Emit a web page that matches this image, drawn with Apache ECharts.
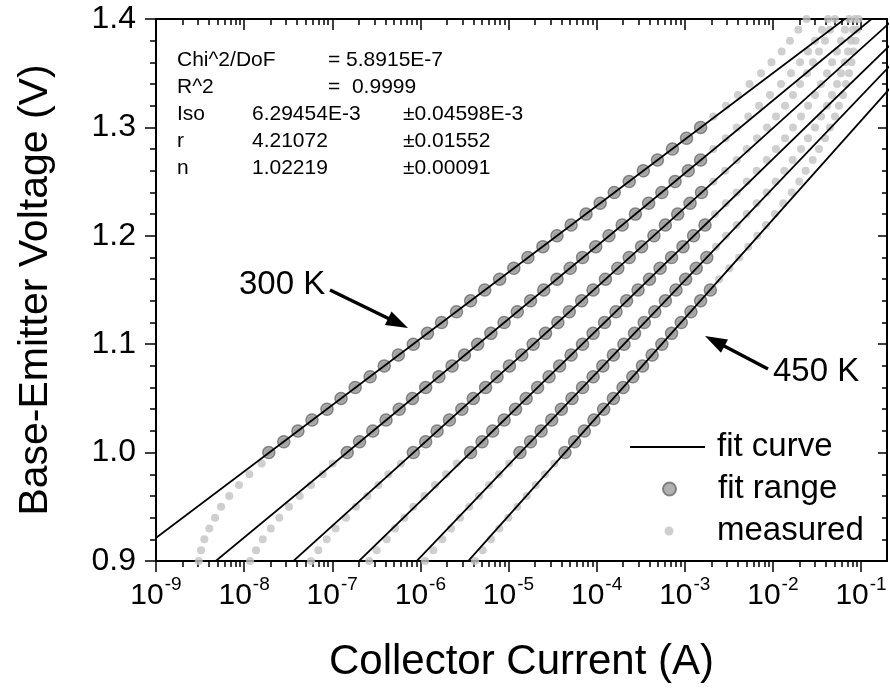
<!DOCTYPE html>
<html><head><meta charset="utf-8">
<script src="https://cdn.jsdelivr.net/npm/echarts@6/dist/echarts.min.js"></script>
<style>html,body{margin:0;padding:0;background:#fff}#c{width:890px;height:691px}</style>
</head><body><div id="c"></div>
<script>
// ---------------- DATA ----------------
const temperatures = ['300 K', '330 K', '360 K', '390 K', '420 K', '450 K'];
// base-emitter voltage of every measured point (V)
const voltage = [0.90,0.91,0.92,0.93,0.94,0.95,0.96,0.97,0.98,0.99,
  1.00,1.01,1.02,1.03,1.04,1.05,1.06,1.07,1.08,1.09,
  1.10,1.11,1.12,1.13,1.14,1.15,1.16,1.17,1.18,1.19,
  1.20,1.21,1.22,1.23,1.24,1.25,1.26,1.27,1.28,1.29,
  1.30,1.31,1.32,1.33,1.34,1.35,1.36,1.37,1.38,1.39,1.40];
// collector current, given as log10(I / A), one value per voltage above
const logI_300K = [-8.515,-8.489,-8.452,-8.395,-8.330,-8.262,-8.168,-8.058,-7.941,-7.801,
  -7.72,-7.55,-7.39,-7.23,-7.06,-6.90,-6.74,-6.57,-6.41,-6.25,
  -6.08,-5.92,-5.76,-5.59,-5.43,-5.27,-5.10,-4.94,-4.78,-4.61,
  -4.45,-4.29,-4.12,-3.96,-3.80,-3.63,-3.47,-3.31,-3.14,-2.98,
  -2.82,-2.676,-2.532,-2.396,-2.265,-2.135,-2.016,-1.900,-1.806,-1.711,-1.618];
const logI_330K = [-7.933,-7.865,-7.789,-7.698,-7.601,-7.491,-7.369,-7.241,-7.108,-6.995,
  -6.83,-6.69,-6.54,-6.39,-6.24,-6.09,-5.94,-5.79,-5.64,-5.50,
  -5.35,-5.20,-5.05,-4.90,-4.75,-4.60,-4.45,-4.30,-4.16,-4.01,
  -3.86,-3.71,-3.56,-3.41,-3.26,-3.11,-2.96,-2.82,-2.676,-2.535,
  -2.410,-2.279,-2.157,-2.033,-1.908,-1.794,-1.692,-1.601,-1.522,-1.443,-1.374];
const logI_360K = [-7.241,-7.158,-7.063,-6.961,-6.844,-6.731,-6.602,-6.477,-6.364,-6.220,
  -6.08,-5.94,-5.81,-5.67,-5.53,-5.40,-5.26,-5.13,-4.99,-4.85,
  -4.72,-4.58,-4.44,-4.31,-4.17,-4.04,-3.90,-3.76,-3.63,-3.49,
  -3.35,-3.22,-3.08,-2.94,-2.81,-2.676,-2.543,-2.410,-2.297,-2.180,
  -2.067,-1.965,-1.862,-1.772,-1.692,-1.613,-1.545,-1.477,-1.409,-1.352,-1.295];
const logI_390K = [-6.580,-6.496,-6.382,-6.288,-6.182,-6.080,-5.955,-5.834,-5.709,-5.588,
  -5.43,-5.30,-5.18,-5.05,-4.92,-4.80,-4.67,-4.54,-4.42,-4.29,
  -4.16,-4.04,-3.91,-3.78,-3.66,-3.53,-3.40,-3.28,-3.15,-3.02,
  -2.90,-2.77,-2.657,-2.535,-2.410,-2.297,-2.184,-2.070,-1.965,-1.862,
  -1.772,-1.681,-1.601,-1.522,-1.454,-1.386,-1.329,-1.272,-1.227,-1.182,-1.136];
const logI_420K = [-5.948,-5.853,-5.751,-5.652,-5.550,-5.445,-5.335,-5.221,-5.108,-4.994,
  -4.87,-4.75,-4.63,-4.51,-4.40,-4.28,-4.16,-4.04,-3.93,-3.81,
  -3.69,-3.57,-3.46,-3.34,-3.22,-3.10,-2.99,-2.87,-2.75,-2.645,
  -2.532,-2.410,-2.297,-2.184,-2.070,-1.968,-1.870,-1.775,-1.681,-1.601,
  -1.522,-1.454,-1.386,-1.329,-1.272,-1.227,-1.182,-1.148,-1.113,-1.091,-1.068];
const logI_450K = [-5.380,-5.293,-5.199,-5.104,-5.002,-4.900,-4.794,-4.691,-4.586,-4.480,
  -4.36,-4.25,-4.14,-4.03,-3.92,-3.81,-3.70,-3.59,-3.48,-3.37,
  -3.26,-3.15,-3.04,-2.93,-2.82,-2.71,-2.611,-2.494,-2.384,-2.279,
  -2.177,-2.078,-1.976,-1.882,-1.786,-1.700,-1.628,-1.548,-1.477,-1.409,
  -1.352,-1.295,-1.250,-1.204,-1.170,-1.136,-1.108,-1.085,-1.062,-1.045,-1.028];
// fit range = voltages from 1.00 V up to these voltages
const fitStartV = 1.00;
const fitEndV = [1.30, 1.27, 1.24, 1.21, 1.18, 1.15];
// fitted straight lines: voltage of the two ends and log10(I) there
const fitLineV = [0.88, 1.42];
const fitLine_300K = [-9.676, -0.858];
const fitLine_330K = [-8.620, -0.583];
const fitLine_360K = [-7.714, -0.355];
const fitLine_390K = [-6.950, -0.111];
const fitLine_420K = [-6.276, 0.070];
const fitLine_450K = [-5.676, 0.249];
// axis ticks
const xMajorExp = [-9, -8, -7, -6, -5, -4, -3, -2, -1];
const xMinorFactors = [2, 3, 4, 5, 6, 7, 8, 9];
const yTicks = [0.9, 1.0, 1.1, 1.2, 1.3, 1.4];
const fitReport = [
  ['Chi^2/DoF', '', '= 5.8915E-7'],
  ['R^2', '', '=  0.9999'],
  ['Iso', '6.29454E-3', '\u00b10.04598E-3'],
  ['r', '4.21072', '\u00b10.01552'],
  ['n', '1.02219', '\u00b10.00091']
];
// ------------------------------------------------------------------------

const logCurves = [logI_300K, logI_330K, logI_360K, logI_390K, logI_420K, logI_450K];
const fitLines = [fitLine_300K, fitLine_330K, fitLine_360K, fitLine_390K, fitLine_420K, fitLine_450K];
const X_MIN = 1e-9, X_MAX = 0.1972;
const EXP_MIN = Math.log10(X_MIN), EXP_MAX = Math.log10(X_MAX);
const FONT = '"Liberation Sans", Arial, Helvetica, sans-serif';

const minorExp = [];
xMajorExp.concat([0]).forEach(n => xMinorFactors.forEach(k => {
  const e = n + Math.log10(k);
  if (e > EXP_MIN && e < EXP_MAX) minorExp.push(e);
}));

const series = [];
logCurves.forEach((arr, i) => {
  series.push({
    name: 'measured', type: 'scatter', xAxisIndex: 0, yAxisIndex: 0,
    data: voltage.map((v, j) => [Math.pow(10, arr[j]), v]),
    symbol: 'circle', symbolSize: 8, z: 2,
    itemStyle: { color: '#c3c3c3' }, silent: true
  });
});
logCurves.forEach((arr, i) => {
  const pts = [];
  voltage.forEach((v, j) => {
    if (v >= fitStartV - 1e-9 && v <= fitEndV[i] + 1e-9) pts.push([Math.pow(10, arr[j]), v]);
  });
  series.push({
    name: 'fit range', type: 'scatter', xAxisIndex: 0, yAxisIndex: 0,
    data: pts, symbol: 'circle', symbolSize: 12, z: 3,
    itemStyle: { color: 'rgba(140,140,140,0.85)', borderColor: '#6a6a6a', borderWidth: 1.5 }, silent: true
  });
});
fitLines.forEach((ln, i) => {
  series.push({
    name: 'fit curve', type: 'line', xAxisIndex: 0, yAxisIndex: 0,
    data: fitLineV.map((v, j) => [Math.pow(10, ln[j]), v]),
    symbol: 'none', clip: true, z: 4,
    lineStyle: { color: '#000', width: 1.8 }, itemStyle: { color: '#000' }, silent: true
  });
});

const grid = { left: 156, top: 19, width: 731, height: 542 };
const axisLineStyle = { show: true, onZero: false, lineStyle: { color: '#000', width: 2 } };

const decoX = (pos, vals, len, inside, withLine, withLabel) => ({
  type: 'value', position: pos, min: EXP_MIN, max: EXP_MAX,
  axisLine: withLine ? axisLineStyle : { show: false },
  splitLine: { show: false },
  axisTick: { show: true, customValues: vals, inside: inside, length: len, lineStyle: { color: '#000', width: 1.5 } },
  axisLabel: withLabel ? {
    show: true, customValues: xMajorExp, margin: 14,
    formatter: v => '{b|10}{s|' + Math.round(v) + '}',
    rich: {
      b: { fontFamily: FONT, fontSize: 30, color: '#000', lineHeight: 36, verticalAlign: 'bottom' },
      s: { fontFamily: FONT, fontSize: 19, color: '#000', lineHeight: 36, verticalAlign: 'top', padding: [0, 0, 0, 1] }
    }
  } : { show: false }
});

const legendText = { fontFamily: FONT, fontSize: 33, color: '#000', lineHeight: 36 };
const option = {
  animation: false,
  backgroundColor: '#fff',
  grid: grid,
  xAxis: [
    { type: 'log', logBase: 10, min: X_MIN, max: X_MAX, show: false },
    Object.assign(decoX('bottom', xMajorExp, 11, false, true, true), {
      name: 'Collector Current (A)', nameLocation: 'middle', nameGap: 80,
      nameTextStyle: { fontFamily: FONT, fontSize: 42, color: '#000' }
    }),
    decoX('bottom', minorExp, 6, false, false, false),
    decoX('top', xMajorExp, 11, true, true, false),
    decoX('top', minorExp, 6, true, false, false)
  ],
  yAxis: [
    {
      type: 'value', position: 'left', min: 0.9, max: 1.4, interval: 0.1,
      axisLine: axisLineStyle, splitLine: { show: false },
      axisTick: { show: true, length: 11, lineStyle: { color: '#000', width: 1.5 } },
      minorTick: { show: true, splitNumber: 5, length: 6, lineStyle: { color: '#000', width: 1.5 } },
      axisLabel: { show: true, margin: 20, fontFamily: FONT, fontSize: 32, color: '#000', formatter: v => v.toFixed(1) },
      name: 'Base-Emitter Voltage (V)', nameLocation: 'middle', nameGap: 100,
      nameTextStyle: { fontFamily: FONT, fontSize: 41, color: '#000' }
    },
    {
      type: 'value', position: 'right', min: 0.9, max: 1.4, interval: 0.1,
      axisLine: axisLineStyle, splitLine: { show: false },
      axisTick: { show: true, inside: true, length: 9, lineStyle: { color: '#000', width: 1.5 } },
      minorTick: { show: true, splitNumber: 5, length: 5, lineStyle: { color: '#000', width: 1.5 } },
      axisLabel: { show: false }
    }
  ],
  legend: [
    { data: [{ name: 'fit curve', icon: 'rect' }], left: 630, top: 429, orient: 'vertical', padding: 0,
      itemWidth: 75, itemHeight: 2, selectedMode: false,
      textStyle: Object.assign({ padding: [0, 0, 0, 7] }, legendText) },
    { data: [{ name: 'fit range', icon: 'circle' }], left: 662, top: 471, orient: 'vertical', padding: 0,
      itemWidth: 13, itemHeight: 13, selectedMode: false,
      textStyle: Object.assign({ padding: [0, 0, 0, 37] }, legendText) },
    { data: [{ name: 'measured', icon: 'circle' }], left: 664.5, top: 513, orient: 'vertical', padding: 0,
      itemWidth: 9, itemHeight: 9, selectedMode: false,
      textStyle: Object.assign({ padding: [0, 0, 0, 38.5] }, legendText) }
  ],
  series: series,
  graphic: []
};

// fit report text block
const colX = [177, 252, 328];
fitReport.forEach((row, r) => {
  const y = 62 + r * 27;
  const xs = [colX[0], colX[1], row[1] ? 403 : colX[2]];
  row.forEach((t, c) => {
    if (!t) return;
    option.graphic.push({ type: 'text', left: xs[c], top: y - 12, silent: true,
      style: { text: t, font: '21px ' + FONT, fill: '#000' } });
  });
});

// temperature annotations with arrows
function arrow(x1, y1, x2, y2) {
  const dx = x2 - x1, dy = y2 - y1, L = Math.hypot(dx, dy);
  const ux = dx / L, uy = dy / L, hl = 22, hw = 7.5;
  const bx = x2 - ux * hl, by = y2 - uy * hl;
  option.graphic.push({ type: 'line', silent: true,
    shape: { x1: x1, y1: y1, x2: bx + ux * 2, y2: by + uy * 2 }, style: { stroke: '#000', lineWidth: 3.5 } });
  option.graphic.push({ type: 'polygon', silent: true,
    shape: { points: [[x2, y2], [bx - uy * hw, by + ux * hw], [bx + uy * hw, by - ux * hw]] }, style: { fill: '#000' } });
}
arrow(330, 290, 408, 328);
arrow(768, 369, 705, 336);
option.graphic.push({ type: 'text', left: 239, top: 268, silent: true,
  style: { text: temperatures[0], font: '33px ' + FONT, fill: '#000' } });
option.graphic.push({ type: 'text', left: 773, top: 355, silent: true,
  style: { text: temperatures[5], font: '33px ' + FONT, fill: '#000' } });

const chart = echarts.init(document.getElementById('c'), null, { renderer: 'canvas' });
chart.setOption(option);
</script>
</body></html>
